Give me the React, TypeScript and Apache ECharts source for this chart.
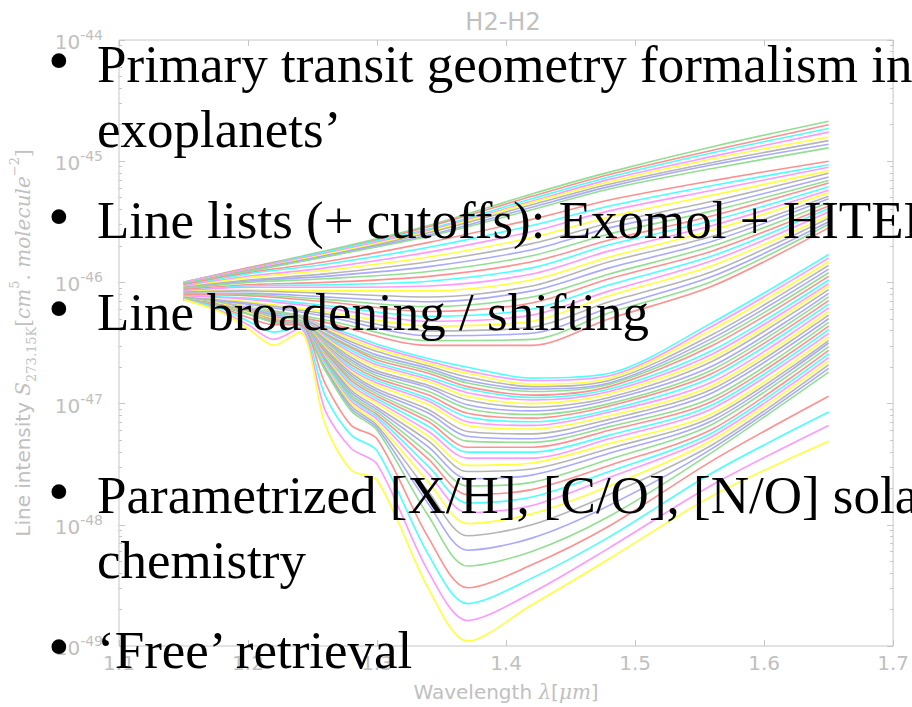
import React, { useEffect, useRef } from 'react';
import * as echarts from 'echarts';

// Wavelength grids (µm) at which the curves are sampled
const upperWavelengths = [1.15, 1.2, 1.26, 1.34, 1.42, 1.48, 1.56, 1.65];
const lowerWavelengths = [1.15, 1.18, 1.2, 1.22, 1.24, 1.26, 1.28, 1.3, 1.34, 1.37, 1.42, 1.48, 1.56, 1.65];

// log10 of line intensity, one row per curve, listed from the top of the plot downwards
const groupA = [
  [-46.0, -45.88, -45.74, -45.53, -45.27, -45.09, -44.88, -44.67],
  [-46.0, -45.88, -45.75, -45.54, -45.29, -45.11, -44.91, -44.7],
  [-46.0, -45.89, -45.75, -45.56, -45.31, -45.13, -44.93, -44.73],
  [-46.0, -45.89, -45.76, -45.57, -45.33, -45.15, -44.96, -44.76],
  [-46.01, -45.9, -45.77, -45.58, -45.34, -45.17, -44.98, -44.8],
  [-46.01, -45.9, -45.78, -45.59, -45.36, -45.19, -45.01, -44.83],
  [-46.01, -45.91, -45.78, -45.61, -45.38, -45.21, -45.03, -44.86],
  [-46.01, -45.91, -45.79, -45.62, -45.4, -45.23, -45.06, -44.89],
];

const groupB = [
  [-46.02, -45.92, -45.83, -45.67, -45.48, -45.32, -45.16, -45.0],
  [-46.03, -45.93, -45.85, -45.71, -45.53, -45.37, -45.2, -45.03],
  [-46.03, -45.95, -45.88, -45.75, -45.58, -45.41, -45.24, -45.05],
  [-46.04, -45.96, -45.9, -45.79, -45.63, -45.46, -45.28, -45.08],
  [-46.04, -45.98, -45.93, -45.83, -45.68, -45.51, -45.33, -45.1],
  [-46.05, -45.99, -45.95, -45.87, -45.73, -45.55, -45.37, -45.13],
  [-46.05, -46.0, -45.97, -45.91, -45.78, -45.6, -45.41, -45.16],
  [-46.06, -46.02, -46.0, -45.95, -45.83, -45.65, -45.45, -45.18],
  [-46.07, -46.03, -46.02, -45.99, -45.88, -45.69, -45.49, -45.21],
  [-46.07, -46.04, -46.04, -46.03, -45.93, -45.74, -45.53, -45.24],
  [-46.08, -46.06, -46.07, -46.07, -45.98, -45.79, -45.57, -45.26],
  [-46.08, -46.07, -46.09, -46.12, -46.03, -45.83, -45.62, -45.29],
  [-46.09, -46.09, -46.12, -46.16, -46.07, -45.88, -45.66, -45.31],
  [-46.09, -46.1, -46.14, -46.2, -46.12, -45.93, -45.7, -45.34],
  [-46.1, -46.11, -46.16, -46.24, -46.17, -45.97, -45.74, -45.37],
  [-46.11, -46.13, -46.19, -46.28, -46.22, -46.02, -45.78, -45.39],
  [-46.11, -46.14, -46.21, -46.32, -46.27, -46.07, -45.82, -45.42],
  [-46.12, -46.16, -46.24, -46.36, -46.32, -46.11, -45.86, -45.45],
  [-46.12, -46.17, -46.26, -46.4, -46.37, -46.16, -45.91, -45.47],
  [-46.13, -46.18, -46.28, -46.44, -46.42, -46.21, -45.95, -45.5],
  [-46.13, -46.2, -46.31, -46.48, -46.47, -46.25, -45.99, -45.52],
  [-46.14, -46.21, -46.33, -46.52, -46.52, -46.3, -46.03, -45.55],
];

const groupC = [
  [-46.14, -46.17, -46.2, -46.25, -46.29, -46.36, -46.43, -46.51, -46.63, -46.7, -46.79, -46.75, -46.33, -45.77],
  [-46.14, -46.17, -46.2, -46.25, -46.29, -46.37, -46.45, -46.53, -46.65, -46.73, -46.81, -46.77, -46.36, -45.8],
  [-46.14, -46.17, -46.2, -46.25, -46.29, -46.38, -46.47, -46.55, -46.67, -46.75, -46.84, -46.79, -46.39, -45.83],
  [-46.14, -46.17, -46.21, -46.25, -46.29, -46.39, -46.49, -46.57, -46.69, -46.78, -46.86, -46.81, -46.43, -45.86],
  [-46.14, -46.17, -46.21, -46.26, -46.29, -46.4, -46.51, -46.6, -46.71, -46.81, -46.88, -46.83, -46.46, -45.89],
  [-46.14, -46.17, -46.21, -46.26, -46.3, -46.42, -46.53, -46.62, -46.73, -46.83, -46.9, -46.84, -46.49, -45.92],
  [-46.14, -46.18, -46.21, -46.26, -46.3, -46.43, -46.54, -46.64, -46.75, -46.86, -46.93, -46.86, -46.52, -45.95],
  [-46.14, -46.18, -46.21, -46.26, -46.3, -46.44, -46.56, -46.66, -46.78, -46.88, -46.95, -46.88, -46.56, -45.98],
  [-46.14, -46.18, -46.21, -46.27, -46.3, -46.45, -46.58, -46.68, -46.8, -46.91, -46.97, -46.9, -46.59, -46.01],
  [-46.14, -46.18, -46.22, -46.27, -46.3, -46.46, -46.6, -46.7, -46.82, -46.94, -47.0, -46.92, -46.62, -46.03],
  [-46.14, -46.18, -46.22, -46.27, -46.31, -46.47, -46.62, -46.73, -46.85, -46.97, -47.03, -46.95, -46.65, -46.06],
  [-46.14, -46.18, -46.22, -46.27, -46.31, -46.48, -46.64, -46.75, -46.87, -47.01, -47.06, -46.97, -46.69, -46.09],
  [-46.14, -46.18, -46.22, -46.28, -46.31, -46.49, -46.66, -46.77, -46.9, -47.04, -47.09, -47.0, -46.72, -46.12],
  [-46.14, -46.18, -46.22, -46.28, -46.31, -46.51, -46.68, -46.79, -46.93, -47.08, -47.12, -47.02, -46.75, -46.15],
  [-46.14, -46.18, -46.23, -46.28, -46.31, -46.52, -46.7, -46.81, -46.96, -47.11, -47.15, -47.05, -46.78, -46.18],
  [-46.14, -46.18, -46.23, -46.28, -46.32, -46.53, -46.72, -46.83, -46.98, -47.15, -47.18, -47.07, -46.82, -46.21],
  [-46.14, -46.18, -46.23, -46.29, -46.32, -46.54, -46.74, -46.85, -47.01, -47.18, -47.21, -47.1, -46.85, -46.24],
  [-46.14, -46.19, -46.23, -46.29, -46.32, -46.55, -46.75, -46.88, -47.05, -47.23, -47.25, -47.13, -46.88, -46.27],
  [-46.14, -46.19, -46.23, -46.29, -46.32, -46.56, -46.77, -46.9, -47.08, -47.27, -47.29, -47.16, -46.91, -46.3],
  [-46.14, -46.19, -46.23, -46.29, -46.32, -46.57, -46.79, -46.92, -47.12, -47.31, -47.32, -47.19, -46.95, -46.33],
  [-46.14, -46.19, -46.24, -46.3, -46.33, -46.58, -46.81, -46.94, -47.15, -47.36, -47.36, -47.22, -46.98, -46.36],
  [-46.14, -46.19, -46.24, -46.3, -46.33, -46.6, -46.83, -46.96, -47.19, -47.4, -47.4, -47.26, -47.01, -46.39],
  [-46.14, -46.19, -46.24, -46.3, -46.33, -46.61, -46.85, -46.98, -47.23, -47.45, -47.45, -47.29, -47.04, -46.42],
  [-46.14, -46.19, -46.24, -46.3, -46.33, -46.62, -46.87, -47.0, -47.27, -47.51, -47.49, -47.33, -47.08, -46.45],
  [-46.14, -46.19, -46.24, -46.31, -46.33, -46.63, -46.89, -47.03, -47.31, -47.56, -47.54, -47.37, -47.11, -46.48],
  [-46.14, -46.19, -46.25, -46.31, -46.34, -46.64, -46.91, -47.05, -47.36, -47.62, -47.59, -47.41, -47.14, -46.5],
  [-46.14, -46.19, -46.25, -46.31, -46.34, -46.65, -46.93, -47.07, -47.41, -47.68, -47.65, -47.46, -47.17, -46.53],
  [-46.14, -46.19, -46.25, -46.31, -46.34, -46.66, -46.95, -47.09, -47.46, -47.75, -47.71, -47.51, -47.21, -46.56],
  [-46.14, -46.2, -46.25, -46.32, -46.34, -46.67, -46.96, -47.11, -47.52, -47.82, -47.77, -47.56, -47.24, -46.59],
  [-46.14, -46.2, -46.25, -46.32, -46.34, -46.69, -46.98, -47.13, -47.58, -47.9, -47.84, -47.61, -47.27, -46.62],
  [-46.14, -46.2, -46.25, -46.32, -46.35, -46.7, -47.0, -47.16, -47.65, -47.99, -47.91, -47.68, -47.3, -46.65],
  [-46.14, -46.2, -46.26, -46.32, -46.35, -46.71, -47.02, -47.18, -47.73, -48.09, -48.0, -47.75, -47.34, -46.68],
  [-46.14, -46.2, -46.26, -46.33, -46.35, -46.72, -47.04, -47.2, -47.83, -48.21, -48.11, -47.84, -47.37, -46.71],
  [-46.14, -46.2, -46.26, -46.33, -46.35, -46.73, -47.06, -47.22, -47.93, -48.34, -48.22, -47.93, -47.4, -46.74],
];

const groupD = [
  [-46.14, -46.21, -46.29, -46.35, -46.35, -46.84, -47.18, -47.29, -48.11, -48.52, -48.33, -48.01, -47.47, -46.94],
  [-46.14, -46.22, -46.32, -46.41, -46.37, -46.94, -47.26, -47.39, -48.25, -48.65, -48.44, -48.1, -47.57, -47.07],
  [-46.14, -46.24, -46.35, -46.47, -46.38, -47.06, -47.37, -47.5, -48.39, -48.79, -48.56, -48.19, -47.67, -47.18],
  [-46.14, -46.25, -46.38, -46.52, -46.41, -47.18, -47.55, -47.63, -48.53, -48.96, -48.66, -48.28, -47.76, -47.31],
];

const exponentTicks = [-49, -48, -47, -46, -45, -44];
const wavelengthTicks = [1.1, 1.2, 1.3, 1.4, 1.5, 1.6, 1.7];

const bulletPoints = [
  ['Primary transit geometry formalism in', 'exoplanets’'],
  ['Line lists (+ cutoffs): Exomol + HITEMP'],
  ['Line broadening / shifting'],
  ['Parametrized [X/H], [C/O], [N/O] solar', 'chemistry'],
  ['‘Free’ retrieval'],
];

// colour cycle, counted from the lowest curve upwards
const lineColors = ['#ffff3c', '#ff99ff', '#4cffff', '#ff9090', '#92df92', '#a9a9ff', '#b5b5b5'];

const AXIS_GREY = '#c6c6c6';
const TEXT_GREY = '#c0c0c0';

export default function App() {
  const ref = useRef<HTMLDivElement>(null);

  useEffect(() => {
    if (!ref.current) return;
    const chart = echarts.init(ref.current, undefined, { renderer: 'svg' });

    const families: { wl: number[]; rows: number[][] }[] = [
      { wl: upperWavelengths, rows: groupA },
      { wl: upperWavelengths, rows: groupB },
      { wl: lowerWavelengths, rows: groupC },
      { wl: lowerWavelengths, rows: groupD },
    ];
    const curves: { wl: number[]; row: number[] }[] = [];
    families.forEach((f) => f.rows.forEach((row) => curves.push({ wl: f.wl, row })));
    const total = curves.length;

    const series = curves.map((c, t) => {
      const fromBottom = total - 1 - t;
      return {
        type: 'line',
        data: c.wl.map((w, j) => [w, c.row[j]]),
        showSymbol: false,
        smooth: 0.3,
        silent: true,
        lineStyle: { width: 1.6, color: lineColors[fromBottom % lineColors.length] },
        z: 2,
      };
    });

    // logarithmic minor tick positions between the decades
    const minorTicks: number[] = [];
    for (let e = exponentTicks[0]; e < exponentTicks[exponentTicks.length - 1]; e++) {
      for (let k = 2; k <= 9; k++) minorTicks.push(e + Math.log10(k));
    }

    const baseY = {
      type: 'value',
      min: exponentTicks[0],
      max: exponentTicks[exponentTicks.length - 1],
      interval: 1,
      splitLine: { show: false },
      axisLine: { show: false },
    };

    const yAxes = [
      {
        ...baseY,
        position: 'left',
        axisTick: { show: true, inside: true, length: 6, lineStyle: { color: AXIS_GREY } },
        axisLabel: {
          margin: 16,
          formatter: (v: number) => `{b|10}{s|${v}}`,
          rich: {
            b: { fontSize: 20, fontFamily: 'DejaVu Sans', color: TEXT_GREY, lineHeight: 24, verticalAlign: 'bottom' },
            s: { fontSize: 14, fontFamily: 'DejaVu Sans', color: TEXT_GREY, lineHeight: 24, verticalAlign: 'top' },
          },
        },
        name: 'Line intensity {m|S}{sub|273.15K}{n|[}{m|cm}{sup|5}{n|. }{m|molecule}{sup|−2}{n|]}',
        nameLocation: 'middle',
        nameGap: 81,
        nameTextStyle: {
          color: TEXT_GREY,
          fontSize: 20,
          fontFamily: 'DejaVu Sans',
          rich: {
            n: { fontSize: 20, fontFamily: 'DejaVu Serif', color: TEXT_GREY },
            m: { fontSize: 20, fontFamily: 'DejaVu Serif', fontStyle: 'italic', color: TEXT_GREY },
            sub: { fontSize: 13, fontFamily: 'DejaVu Serif', color: TEXT_GREY, verticalAlign: 'bottom', lineHeight: 30 },
            sup: { fontSize: 13, fontFamily: 'DejaVu Serif', color: TEXT_GREY, verticalAlign: 'top', lineHeight: 30 },
          },
        },
      },
      {
        ...baseY,
        position: 'left',
        axisTick: { show: true, inside: true, length: 3, customValues: minorTicks, lineStyle: { color: AXIS_GREY } },
        axisLabel: { show: false },
      },
      {
        ...baseY,
        position: 'right',
        axisTick: { show: true, inside: true, length: 6, lineStyle: { color: AXIS_GREY } },
        axisLabel: { show: false },
      },
      {
        ...baseY,
        position: 'right',
        axisTick: { show: true, inside: true, length: 3, customValues: minorTicks, lineStyle: { color: AXIS_GREY } },
        axisLabel: { show: false },
      },
    ];

    const baseX = {
      type: 'value',
      min: wavelengthTicks[0],
      max: wavelengthTicks[wavelengthTicks.length - 1],
      interval: 0.1,
      splitLine: { show: false },
      axisLine: { show: false },
      axisTick: { show: true, inside: true, length: 6, lineStyle: { color: AXIS_GREY } },
    };

    const xAxes = [
      {
        ...baseX,
        position: 'bottom',
        axisLabel: {
          margin: 7,
          color: TEXT_GREY,
          fontSize: 20,
          fontFamily: 'DejaVu Sans',
          formatter: (v: number) => v.toFixed(1),
        },
        name: 'Wavelength {m|λ}[{m|μm}]',
        nameLocation: 'middle',
        nameGap: 36,
        nameTextStyle: {
          color: TEXT_GREY,
          fontSize: 20,
          fontFamily: 'DejaVu Sans',
          verticalAlign: 'top',
          rich: {
            m: { fontSize: 20, fontFamily: 'DejaVu Serif', fontStyle: 'italic', color: TEXT_GREY },
          },
        },
      },
      { ...baseX, position: 'top', axisLabel: { show: false } },
    ];

    // slide text drawn over the plot
    const FONT = 53;
    const lineGap = 65;
    const blockBaselines = [82, 238, 330, 513, 668];
    const elements: any[] = [];
    bulletPoints.forEach((lines, i) => {
      const baseline = blockBaselines[i];
      elements.push({
        type: 'text',
        x: 48,
        y: baseline - 22,
        z: 100,
        style: { text: '•', font: `62px "Liberation Serif"`, fill: '#000', verticalAlign: 'middle' },
      });
      lines.forEach((line, j) => {
        elements.push({
          type: 'text',
          x: 97,
          y: baseline + j * lineGap - 18,
          z: 100,
          style: { text: line, font: `${FONT}px "Liberation Serif"`, fill: '#000', verticalAlign: 'middle' },
        });
      });
    });

    chart.setOption({
      animation: false,
      backgroundColor: '#ffffff',
      title: {
        text: 'H2-H2',
        left: 503,
        top: 10,
        textAlign: 'center',
        padding: 0,
        textStyle: { color: TEXT_GREY, fontSize: 24, fontWeight: 'normal', fontFamily: 'DejaVu Sans' },
      },
      grid: {
        left: 110,
        top: 40,
        width: 786,
        height: 608,
        show: true,
        borderColor: AXIS_GREY,
        borderWidth: 1,
        backgroundColor: 'transparent',
      },
      xAxis: xAxes,
      yAxis: yAxes,
      series,
      graphic: { elements },
    });

    return () => chart.dispose();
  }, []);

  return (
    <div
      ref={ref}
      style={{ position: 'absolute', left: 0, top: 0, width: 912, height: 707, background: '#fff' }}
    />
  );
}
